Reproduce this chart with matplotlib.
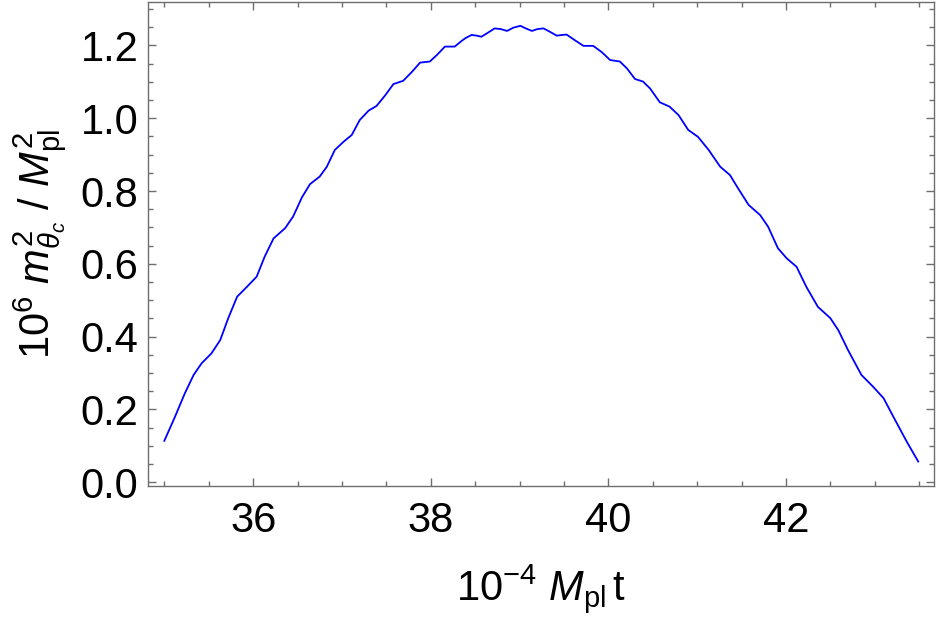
import matplotlib
matplotlib.use('Agg')
import matplotlib.pyplot as plt
from matplotlib.ticker import MultipleLocator

# curve values
t_vals = [35.00, 35.12, 35.23, 35.33, 35.42, 35.53, 35.63, 35.72, 35.82, 35.93,
          36.04, 36.13, 36.23, 36.36, 36.45, 36.55, 36.64, 36.75, 36.83, 36.92,
          37.02, 37.11, 37.20, 37.30, 37.39, 37.49, 37.58, 37.69, 37.79, 37.88,
          37.99, 38.07, 38.16, 38.27, 38.35, 38.39, 38.46, 38.52, 38.57, 38.65,
          38.72, 38.79, 38.86, 38.93, 39.01, 39.07, 39.14, 39.20, 39.27, 39.34,
          39.42, 39.48, 39.53, 39.62, 39.72, 39.83, 39.93, 40.02, 40.13,
          40.21, 40.30, 40.39, 40.47, 40.58, 40.69, 40.79, 40.90, 41.01, 41.13,
          41.26, 41.37, 41.46, 41.58, 41.71, 41.80, 41.91, 42.01, 42.12, 42.23,
          42.36, 42.50, 42.59, 42.70, 42.85, 42.98, 43.10, 43.21, 43.36, 43.49]
m2_vals = [0.114, 0.180, 0.244, 0.295, 0.327, 0.354, 0.391, 0.451, 0.510, 0.537,
           0.565, 0.620, 0.670, 0.698, 0.730, 0.783, 0.819, 0.840, 0.867, 0.913,
           0.936, 0.954, 0.995, 1.021, 1.034, 1.064, 1.094, 1.103, 1.128, 1.153,
           1.156, 1.174, 1.197, 1.197, 1.213, 1.220, 1.229, 1.227, 1.224, 1.236,
           1.247, 1.245, 1.240, 1.249, 1.254, 1.247, 1.240, 1.245, 1.247, 1.238,
           1.227, 1.229, 1.230, 1.215, 1.199, 1.199, 1.181, 1.160, 1.156,
           1.137, 1.108, 1.101, 1.082, 1.044, 1.032, 1.009, 0.968, 0.949, 0.913,
           0.867, 0.844, 0.808, 0.762, 0.734, 0.702, 0.643, 0.615, 0.592, 0.537,
           0.482, 0.451, 0.418, 0.363, 0.295, 0.263, 0.231, 0.180, 0.112, 0.057]

xticks = [36, 38, 40, 42]
yticks = [0.0, 0.2, 0.4, 0.6, 0.8, 1.0, 1.2]

plt.rcParams['font.family'] = ['Liberation Sans', 'DejaVu Sans']
plt.rcParams['mathtext.fontset'] = 'custom'
plt.rcParams['mathtext.rm'] = 'Liberation Sans'
plt.rcParams['mathtext.it'] = 'Liberation Sans:italic'
plt.rcParams['mathtext.bf'] = 'Liberation Sans:bold'

frame_col = '#6e6e6e'

fig = plt.figure(figsize=(9.38, 6.23), dpi=100)
ax = fig.add_axes([148 / 938, 1 - 486 / 623, (934.3 - 148) / 938, (486 - 2) / 623])

ax.plot(t_vals, m2_vals, color='#0000ff', lw=1.3, solid_joinstyle='round')

ax.set_xlim(34.816, 43.671)
ax.set_ylim(-0.0102, 1.3195)

ax.set_xticks(xticks)
ax.set_xticklabels([str(v) for v in xticks])
ax.set_yticks(yticks)
ax.set_yticklabels([f'{v:.1f}' for v in yticks])
ax.xaxis.set_minor_locator(MultipleLocator(0.5))
ax.yaxis.set_minor_locator(MultipleLocator(0.05))

ax.tick_params(which='both', direction='in', top=True, right=True,
               color=frame_col, width=1.0, labelsize=30, labelcolor='black')
ax.tick_params(which='major', length=6)
ax.tick_params(which='minor', length=3.5)
ax.tick_params(axis='x', which='major', pad=11)
ax.tick_params(axis='y', which='major', pad=7)

for sp in ax.spines.values():
    sp.set_color(frame_col)
    sp.set_linewidth(1.0)

ax.set_xlabel(r'$10^{-4}\ M_{\rm pl}\,{\rm t}$', fontsize=30, labelpad=15)
ax.set_ylabel(r'$10^{6}\ m^{2}_{\theta_c}\ /\ M^{2}_{\rm pl}$', fontsize=30, labelpad=8)

fig.savefig('out.png', dpi=100)
